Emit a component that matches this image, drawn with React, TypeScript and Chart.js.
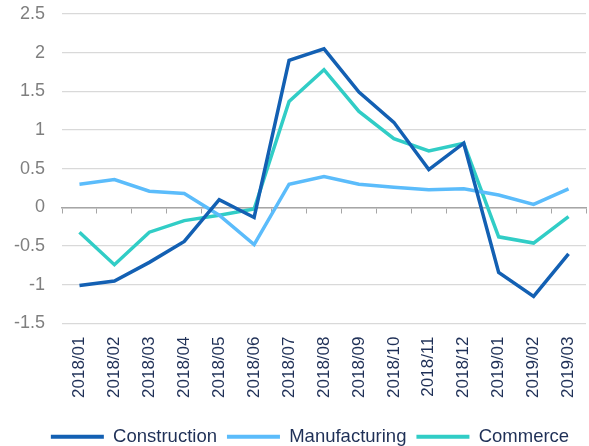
import React, { useEffect, useRef } from "react";
import { Chart, registerables } from "chart.js";

Chart.register(...registerables);

const categories = [
  "2018/01", "2018/02", "2018/03", "2018/04", "2018/05", "2018/06", "2018/07",
  "2018/08", "2018/09", "2018/10", "2018/11", "2018/12", "2019/01", "2019/02", "2019/03",
];

const construction = [-1.01, -0.95, -0.71, -0.44, 0.1, -0.13, 1.9, 2.05, 1.49, 1.1, 0.49, 0.83, -0.84, -1.15, -0.6];
const manufacturing = [0.3, 0.36, 0.21, 0.18, -0.1, -0.48, 0.3, 0.4, 0.3, 0.26, 0.23, 0.24, 0.16, 0.04, 0.24];
const commerce = [-0.32, -0.74, -0.32, -0.17, -0.1, -0.02, 1.37, 1.78, 1.24, 0.89, 0.73, 0.83, -0.38, -0.46, -0.12];

const yMin = -1.5;
const yMax = 2.5;
const yStep = 0.5;

const FONT = "'Liberation Sans', Arial, sans-serif";
const NAVY = "#1f3057";

const legendShift = {
  id: "legendShift",
  afterLayout(chart: any) {
    const lg = chart.legend;
    if (lg) {
      lg.left += 17;
      lg.right += 17;
    }
  },
};

export default function App() {
  const ref = useRef<HTMLCanvasElement | null>(null);

  useEffect(() => {
    if (!ref.current) return;
    const mk = (label: string, data: number[], color: string) => ({
      label,
      data,
      borderColor: color,
      backgroundColor: color,
      borderWidth: 3.5,
      pointRadius: 0,
      tension: 0,
      fill: false,
    });
    const chart = new Chart(ref.current, {
      type: "line",
      data: {
        labels: categories,
        datasets: [
          mk("Construction", construction, "#1360b3"),
          mk("Manufacturing", manufacturing, "#5bbcfb"),
          mk("Commerce", commerce, "#31cdc6"),
        ],
      },
      plugins: [legendShift],
      options: {
        responsive: false,
        animation: false,
        devicePixelRatio: 1,
        layout: { autoPadding: false, padding: { top: 14, right: 3, left: 0, bottom: 0 } },
        plugins: {
          tooltip: { enabled: false },
          legend: {
            position: "bottom",
            labels: {
              boxWidth: 53,
              boxHeight: 4,
              padding: 10,
              color: NAVY,
              font: { family: FONT, size: 18.5 },
              generateLabels: (c: any) =>
                Chart.defaults.plugins.legend.labels
                  .generateLabels(c)
                  .map((l: any) => ({ ...l, lineWidth: 0 })),
            },
          },
        },
        scales: {
          x: {
            type: "category",
            offset: true,
            grid: { display: false, drawTicks: false },
            border: { display: false },
            ticks: {
              color: NAVY,
              font: { family: FONT, size: 17 },
              minRotation: 90,
              maxRotation: 90,
              padding: 13,
              autoSkip: false,
            },
            afterFit: (s: any) => {
              s.height = 94;
              s.paddingLeft = 0;
              s.paddingRight = 0;
              s.paddingTop = 0;
              s.paddingBottom = 0;
            },
          },
          x2: {
            type: "category",
            labels: categories,
            position: { y: 0 },
            offset: true,
            grid: {
              offset: true,
              drawOnChartArea: false,
              drawTicks: true,
              tickLength: 5,
              color: "#a6a6a6",
              lineWidth: 1,
            },
            border: { display: true, color: "#a6a6a6", width: 1.5 },
            ticks: { display: false },
            afterFit: (s: any) => {
              s.paddingLeft = 0;
              s.paddingRight = 0;
              s.paddingTop = 0;
              s.paddingBottom = 0;
            },
          },
          y: {
            min: yMin,
            max: yMax,
            ticks: {
              stepSize: yStep,
              color: "#7f7f7f",
              font: { family: FONT, size: 18 },
              padding: 17,
              callback: (v: any) => String(Math.round(Number(v) * 10) / 10),
            },
            grid: { color: "#d9d9d9", drawTicks: false, lineWidth: 1.3 },
            border: { display: false },
            afterFit: (s: any) => {
              s.width = 62;
              s.paddingTop = 0;
              s.paddingBottom = 0;
            },
          },
        },
      },
    } as any);
    return () => chart.destroy();
  }, []);

  return (
    <div style={{ position: "absolute", left: 0, top: 0, width: 589, height: 456 }}>
      <canvas ref={ref} width={589} height={456} style={{ width: 589, height: 456 }} />
    </div>
  );
}
